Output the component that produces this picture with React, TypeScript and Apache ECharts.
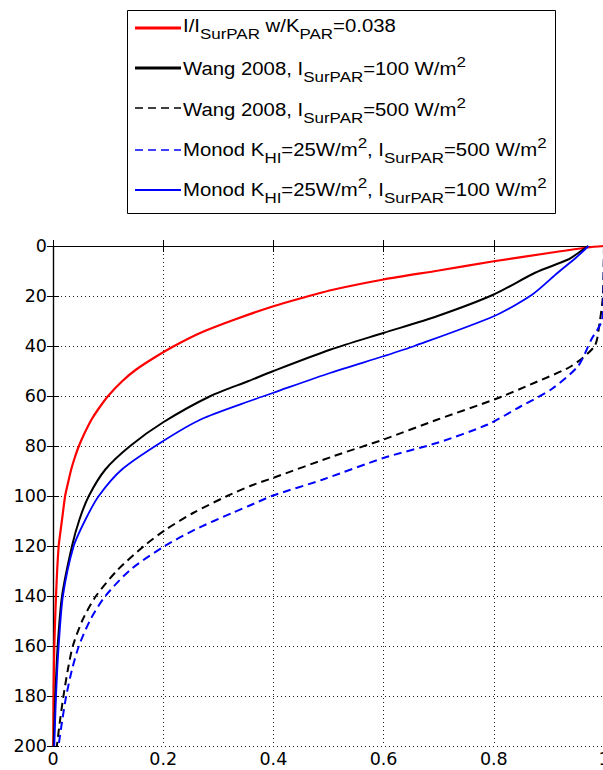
import React, { useEffect, useRef } from "react";
import * as echarts from "echarts";

// Axis ticks
const xTicks = [0, 0.2, 0.4, 0.6, 0.8, 1];
const depthTicks = [0, 20, 40, 60, 80, 100, 120, 140, 160, 180, 200];

// Curves as [relative value, depth]
const redCurve: [number, number][] = [
  [1.0, 0], [0.97, 0.6], [0.9, 2.8], [0.8, 6.1], [0.7, 9.8], [0.6, 13.4], [0.51, 17.4], [0.455, 20.6],
  [0.4, 24.1], [0.33, 29.4], [0.268, 34.7], [0.22, 40], [0.185, 44.5], [0.151, 49.4], [0.126, 54],
  [0.1, 60], [0.083, 65], [0.07, 69.4], [0.057, 75], [0.047, 80], [0.039, 85], [0.033, 89.4],
  [0.027, 95], [0.022, 100], [0.0164, 109.4], [0.0125, 116], [0.0103, 120], [0.0075, 130],
  [0.0055, 140], [0.0038, 150], [0.0024, 160], [0.0012, 176], [0.0008, 188], [0.0005, 200],
];
const wang100: [number, number][] = [
  [0.971, 0], [0.955, 2.5], [0.935, 5.4], [0.875, 10.7], [0.8, 19.4], [0.698, 28], [0.601, 34.7],
  [0.504, 41.4], [0.4, 50], [0.355, 54], [0.286, 60], [0.2, 70.5], [0.14, 80], [0.095, 89.4],
  [0.065, 100], [0.048, 109.4], [0.0345, 120], [0.0164, 140], [0.0085, 160], [0.0042, 180], [0.0012, 200],
];
const wang500: [number, number][] = [
  [1.0, 0], [0.998, 20], [0.992, 30.7], [0.983, 40], [0.941, 48], [0.874, 54.7], [0.801, 61.4],
  [0.698, 69.4], [0.6, 77.4], [0.51, 84], [0.4, 92.7], [0.358, 96], [0.316, 100], [0.255, 106.7],
  [0.205, 113.4], [0.165, 120], [0.118, 129.4], [0.078, 140], [0.054, 149.4], [0.036, 160],
  [0.027, 169.4], [0.019, 180], [0.013, 189.4], [0.007, 200],
];
const monod500: [number, number][] = [
  [1.0, 0], [0.999, 20], [0.996, 30], [0.977, 37.4], [0.953, 48], [0.904, 57.4], [0.85, 64],
  [0.789, 71.4], [0.698, 78.7], [0.601, 84.7], [0.49, 93.4], [0.397, 100], [0.355, 104],
  [0.326, 106.7], [0.258, 113.4], [0.203, 120], [0.141, 129.4], [0.095, 140], [0.068, 149.4],
  [0.047, 160], [0.0345, 169.4], [0.024, 180], [0.017, 189.4], [0.01, 200],
];
const monod100: [number, number][] = [
  [0.972, 0], [0.95, 4.5], [0.916, 10.7], [0.87, 19.4], [0.801, 28], [0.656, 40], [0.601, 44],
  [0.504, 50.7], [0.4, 58.7], [0.365, 61.4], [0.268, 69.4], [0.195, 78.7], [0.125, 89.4],
  [0.083, 100], [0.059, 109.4], [0.0376, 120], [0.018, 140], [0.0103, 160], [0.0055, 180], [0.0024, 200],
];

type Seg = [string, "n" | "b" | "p"];
const legendTexts: Seg[][] = [
  [["I/I", "n"], ["SurPAR", "b"], [" w/K", "n"], ["PAR", "b"], ["=0.038", "n"]],
  [["Wang 2008, I", "n"], ["SurPAR", "b"], ["=100 W/m", "n"], ["2", "p"]],
  [["Wang 2008, I", "n"], ["SurPAR", "b"], ["=500 W/m", "n"], ["2", "p"]],
  [["Monod K", "n"], ["HI", "b"], ["=25W/m", "n"], ["2", "p"], [", I", "n"], ["SurPAR", "b"], ["=500 W/m", "n"], ["2", "p"]],
  [["Monod K", "n"], ["HI", "b"], ["=25W/m", "n"], ["2", "p"], [", I", "n"], ["SurPAR", "b"], ["=100 W/m", "n"], ["2", "p"]],
];
const legendColors = ["#ff0000", "#000000", "#000000", "#0000ff", "#0000ff"];
const legendDashed = [false, false, true, true, false];
const legendWidths = [3, 3, 1.6, 1.6, 2];

const FONT = '"Liberation Sans", Arial, sans-serif';
const MAIN = 18;
const SMALL = 15;

let ctx: CanvasRenderingContext2D | null = null;
function measure(t: string, size: number): number {
  if (!ctx) ctx = document.createElement("canvas").getContext("2d");
  if (!ctx) return t.length * size * 0.55;
  ctx.font = `${size}px ${FONT}`;
  return ctx.measureText(t).width;
}

function legendRow(segs: Seg[], y: number) {
  let x = 0;
  const children: any[] = [];
  for (const [t, k] of segs) {
    const size = k === "n" ? MAIN : SMALL;
    const dy = k === "b" ? 8 : k === "p" ? -7 : 0;
    children.push({
      type: "text",
      x,
      y: dy,
      style: {
        text: t,
        font: `${size}px ${FONT}`,
        fill: "#000",
        align: "left",
        verticalAlign: "middle",
        textAlign: "left",
        textVerticalAlign: "middle",
      },
    });
    x += measure(t, size);
  }
  return { type: "group", x: 183, y, scaleX: 1.13, children };
}

const fmt = (v: number) => String(Math.round(v * 10) / 10);

const W = 620;

export default function App() {
  const ref = useRef<HTMLDivElement>(null);
  useEffect(() => {
    if (!ref.current) return;
    const chart = echarts.init(ref.current, undefined, { renderer: "svg" });
    const rowY = [26, 69, 110, 150, 190];
    const lineY = [28, 68, 108, 150, 190];
    const graphic: any[] = [
      {
        type: "rect",
        shape: { x: 127.5, y: 10.5, width: 428, height: 203 },
        style: { fill: "#fff", stroke: "#000", lineWidth: 1 },
      },
    ];
    legendTexts.forEach((segs, i) => {
      graphic.push({
        type: "line",
        shape: { x1: 135, y1: lineY[i], x2: 181, y2: lineY[i] },
        style: {
          stroke: legendColors[i],
          lineWidth: legendWidths[i],
          lineDash: legendDashed[i] ? [8, 5] : null,
        },
      });
      graphic.push(legendRow(segs, rowY[i]));
    });

    const axisLabel = { fontFamily: "DejaVu Sans", fontSize: 17.5, color: "#000" };
    const mk = (name: string, data: [number, number][], color: string, width: number, dashed: boolean) => ({
      name,
      type: "line",
      data,
      showSymbol: false,
      symbol: "none",
      smooth: 0.25,
      clip: false,
      lineStyle: { color, width, type: dashed ? [8, 5] : "solid" },
    });

    chart.setOption({
      animation: false,
      backgroundColor: "#fff",
      graphic,
      grid: { left: 53, top: 246, right: W - 604, bottom: 24 },
      xAxis: [
        {
          type: "value",
          position: "bottom",
          min: 0,
          max: 1,
          interval: 0.2,
          axisLine: { show: true, lineStyle: { color: "#000", width: 1.2 } },
          axisTick: { show: true, inside: true, length: 6, lineStyle: { color: "#000" } },
          axisLabel: { ...axisLabel, margin: 4, formatter: fmt },
          splitLine: { show: true, lineStyle: { color: "#222", width: 1, type: [1, 3] } },
        },
        {
          type: "value",
          position: "top",
          min: 0,
          max: 1,
          interval: 0.2,
          axisLine: { show: true, lineStyle: { color: "#000", width: 1.2 } },
          axisTick: { show: true, inside: true, length: 6, lineStyle: { color: "#000" } },
          axisLabel: { show: false },
          splitLine: { show: false },
        },
      ],
      yAxis: [
        {
          type: "value",
          position: "left",
          inverse: true,
          min: 0,
          max: 200,
          interval: 20,
          axisLine: { show: true, lineStyle: { color: "#000", width: 1.2 } },
          axisTick: { show: true, inside: true, length: 6, lineStyle: { color: "#000" } },
          axisLabel: { ...axisLabel, margin: 6, formatter: (v: number) => String(v) },
          splitLine: { show: true, lineStyle: { color: "#222", width: 1, type: [1, 3] } },
        },
        {
          type: "value",
          position: "right",
          inverse: true,
          min: 0,
          max: 200,
          interval: 20,
          axisLine: { show: true, lineStyle: { color: "#000", width: 1.2 } },
          axisTick: { show: true, inside: true, length: 6, lineStyle: { color: "#000" } },
          axisLabel: { show: false },
          splitLine: { show: false },
        },
      ],
      series: [
        mk("red", redCurve, "#ff0000", 2.2, false),
        mk("wang100", wang100, "#000000", 2, false),
        mk("wang500", wang500, "#000000", 2, true),
        mk("monod500", monod500, "#0000ff", 2, true),
        mk("monod100", monod100, "#0000ff", 1.8, false),
      ],
    });
    return () => chart.dispose();
  }, []);
  return (
    <div
      ref={ref}
      style={{ position: "fixed", left: 0, top: 0, width: W, height: 770, background: "#fff" }}
    />
  );
}
